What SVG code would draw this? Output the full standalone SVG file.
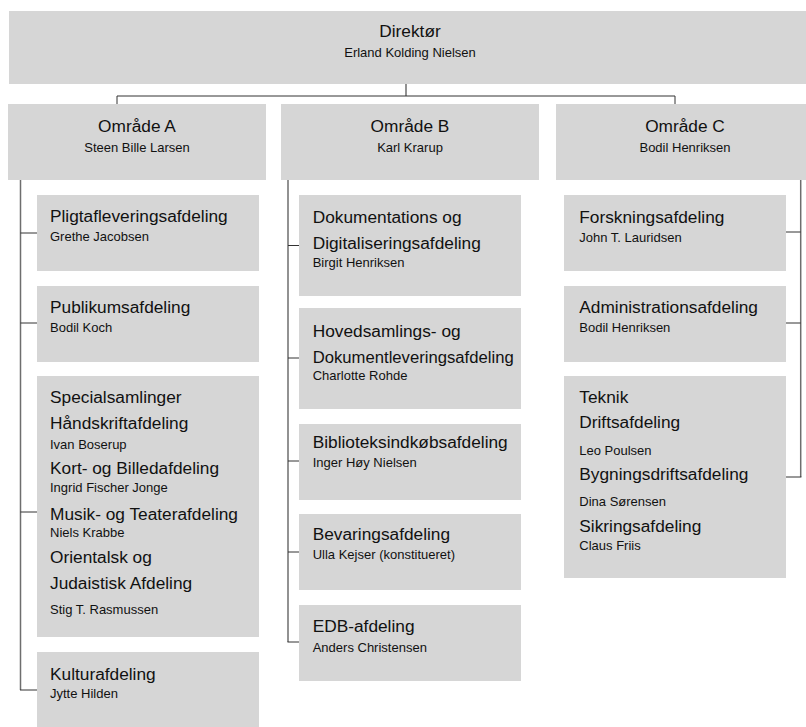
<svg xmlns="http://www.w3.org/2000/svg" width="806" height="727" viewBox="0 0 806 727">
<style>
.box{fill:#d6d6d6}
text{font-family:"Liberation Sans",Arial,sans-serif;fill:#111}
.h{font-size:17.3px}
.n{font-size:13px}
.c{text-anchor:middle}
.v{stroke:#6e6e6e;stroke-width:1.5;fill:none}
.t{stroke:#333;stroke-width:1;fill:none}
</style>
<rect width="806" height="727" fill="#fff"/>
<g id="connectors">
<path class="v" d="M406,84V96"/>
<path class="t" d="M117,104V96H675V104"/>
<path class="v" d="M20.5,180V690"/>
<path class="t" d="M20.5,233H37M20.5,323H37M20.5,512H37M20,690H37"/>
<path class="v" d="M288,180V642"/>
<path class="t" d="M288,245.5H299M288,358H299M288,461H299M288,552H299M287.5,642H299"/>
<path class="v" d="M800.7,180V477"/>
<path class="t" d="M786,232H800.7M786,323H800.7M786,477H801.4"/>
</g>
<g id="direktor">
<rect class="box" x="9" y="11" width="802" height="73"/>
<text class="h c" x="410" y="37.3">Direktør</text>
<text class="n c" x="410" y="57.3">Erland Kolding Nielsen</text>
</g>
<g id="omraade-a">
<rect class="box" x="8" y="104" width="258" height="76"/>
<text class="h c" x="137" y="132">Område A</text>
<text class="n c" x="137" y="152">Steen Bille Larsen</text>
</g>
<g id="omraade-b">
<rect class="box" x="281" y="104" width="258" height="76"/>
<text class="h c" x="410" y="132">Område B</text>
<text class="n c" x="410" y="152">Karl Krarup</text>
</g>
<g id="omraade-c">
<rect class="box" x="556" y="104" width="258" height="76"/>
<text class="h c" x="685" y="132">Område C</text>
<text class="n c" x="685" y="152">Bodil Henriksen</text>
</g>
<g id="pligt">
<rect class="box" x="37" y="195" width="222" height="76"/>
<text class="h" x="50" y="222">Pligtafleveringsafdeling</text>
<text class="n" x="50" y="241">Grethe Jacobsen</text>
</g>
<g id="publikum">
<rect class="box" x="37" y="286" width="222" height="76"/>
<text class="h" x="50" y="313">Publikumsafdeling</text>
<text class="n" x="50" y="332">Bodil Koch</text>
</g>
<g id="special">
<rect class="box" x="37" y="376" width="222" height="261"/>
<text class="h" x="50" y="403">Specialsamlinger</text>
<text class="h" x="50" y="428.7">Håndskriftafdeling</text>
<text class="n" x="50" y="448.7">Ivan Boserup</text>
<text class="h" x="50" y="474">Kort- og Billedafdeling</text>
<text class="n" x="50" y="492">Ingrid Fischer Jonge</text>
<text class="h" x="50" y="520">Musik- og Teaterafdeling</text>
<text class="n" x="50" y="537">Niels Krabbe</text>
<text class="h" x="50" y="563">Orientalsk og</text>
<text class="h" x="50" y="589">Judaistisk Afdeling</text>
<text class="n" x="50" y="614">Stig T. Rasmussen</text>
</g>
<g id="kultur">
<rect class="box" x="37" y="652" width="222" height="80"/>
<text class="h" x="50" y="680">Kulturafdeling</text>
<text class="n" x="50" y="698">Jytte Hilden</text>
</g>
<g id="dok">
<rect class="box" x="299" y="195" width="222" height="101"/>
<text class="h" x="312.7" y="222.7">Dokumentations og</text>
<text class="h" x="312.7" y="249">Digitaliseringsafdeling</text>
<text class="n" x="312.7" y="266.7">Birgit Henriksen</text>
</g>
<g id="hoved">
<rect class="box" x="299" y="308" width="222" height="101"/>
<text class="h" x="312.7" y="336.7">Hovedsamlings- og</text>
<text class="h" x="312.7" y="363" textLength="201" lengthAdjust="spacingAndGlyphs">Dokumentleveringsafdeling</text>
<text class="n" x="312.7" y="380">Charlotte Rohde</text>
</g>
<g id="biblio">
<rect class="box" x="299" y="424" width="222" height="76"/>
<text class="h" x="312.7" y="448">Biblioteksindkøbsafdeling</text>
<text class="n" x="312.7" y="466.7">Inger Høy Nielsen</text>
</g>
<g id="bevaring">
<rect class="box" x="299" y="514" width="222" height="76"/>
<text class="h" x="312.7" y="540">Bevaringsafdeling</text>
<text class="n" x="312.7" y="559">Ulla Kejser (konstitueret)</text>
</g>
<g id="edb">
<rect class="box" x="299" y="605" width="222" height="76"/>
<text class="h" x="312.7" y="632">EDB-afdeling</text>
<text class="n" x="312.7" y="651.7">Anders Christensen</text>
</g>
<g id="forskning">
<rect class="box" x="564" y="195" width="222" height="76"/>
<text class="h" x="579.3" y="222.7">Forskningsafdeling</text>
<text class="n" x="579.3" y="241.7">John T. Lauridsen</text>
</g>
<g id="admin">
<rect class="box" x="564" y="286" width="222" height="76"/>
<text class="h" x="579.3" y="313">Administrationsafdeling</text>
<text class="n" x="579.3" y="331.7">Bodil Henriksen</text>
</g>
<g id="teknik">
<rect class="box" x="564" y="376" width="222" height="202"/>
<text class="h" x="579.3" y="403">Teknik</text>
<text class="h" x="579.3" y="428">Driftsafdeling</text>
<text class="n" x="579.3" y="455">Leo Poulsen</text>
<text class="h" x="579.3" y="480">Bygningsdriftsafdeling</text>
<text class="n" x="579.3" y="506">Dina Sørensen</text>
<text class="h" x="579.3" y="531.7">Sikringsafdeling</text>
<text class="n" x="579.3" y="550">Claus Friis</text>
</g>
</svg>
